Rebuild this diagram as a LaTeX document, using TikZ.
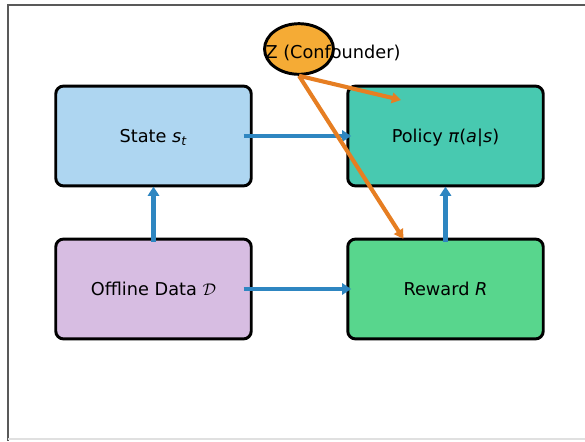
\documentclass[tikz,border=0pt]{standalone}
\usepackage{fontspec}
\setmainfont{DejaVu Sans}
\definecolor{stateblue}{RGB}{174, 214, 241}
\definecolor{policyteal}{RGB}{72, 201, 176}
\definecolor{datalilac}{RGB}{215, 189, 226}
\definecolor{rewardgreen}{RGB}{88, 214, 141}
\definecolor{confounder}{RGB}{245, 171, 53}
\definecolor{flowblue}{RGB}{46, 134, 193}
\definecolor{biasorange}{RGB}{230, 126, 34}
\usetikzlibrary{shapes.geometric, arrows.meta, positioning}

\begin{document}
\begin{tikzpicture}[
        x=0.025cm, y=-0.025cm,
        block/.style={rectangle, draw, line width=2.1pt, rounded corners=5.5pt,
                      minimum width=139pt, minimum height=71pt, align=center,
                      text depth=0pt, yshift=0pt,
                      font=\fontsize{12.6}{14}\selectfont},
        flow/.style={-{Triangle[length=6.5pt, width=8pt]}, line width=3.3pt, flowblue},
        bias/.style={-{Triangle[length=6.5pt, width=7.5pt]}, line width=2.9pt, biasorange}
    ]
        \useasboundingbox (0,0) rectangle (585,441);

        % axes frame
        \draw[black!65, line width=1pt] (585,5) -- (8,5) -- (8,441);
        \draw[black!12, line width=0.8pt] (8,439) -- (585,439);

        % four blocks
        \node[block, fill=stateblue] (state) at (153.5,136) {State \textit{s}\textsubscript{\textit{t}}};
        \node[block, fill=policyteal] (policy) at (445.5,136) {Policy \textit{π}(\textit{a}|\textit{s})};
        \node[block, fill=datalilac] (data) at (153.5,289) {Offline Data $\mathcal{D}$};
        \node[block, fill=rewardgreen] (reward) at (445.5,289) {Reward \textit{R}};

        % confounder
        \node[ellipse, draw, line width=2.1pt, fill=confounder,
              minimum width=49pt, minimum height=36pt, inner sep=0pt] (z) at (299,49) {};
        \node[font=\fontsize{12.6}{14}\selectfont] (zlabel) at (333,53) {Z (Confounder)};

        % causal flow
        \draw[flow, shorten <=-6.4pt, shorten >=-3.5pt] (state.east) -- (policy.west);
        \draw[flow, shorten <=-6.4pt, shorten >=-3.5pt] (data.east) -- (reward.west);
        \draw[flow, shorten <=-3pt, shorten >=-0.5pt] (data.north) -- (state.south);
        \draw[flow, shorten <=-3pt, shorten >=-0.5pt] (reward.north) -- (policy.south);

        % confounding paths
        \coordinate (zpol) at (401,100);
        \draw[bias] (z.south) -- (zpol);
        \draw[bias, shorten >=-1pt] (z.south) -- ([xshift=-30.5pt]reward.north);
    \end{tikzpicture}
\end{document}
